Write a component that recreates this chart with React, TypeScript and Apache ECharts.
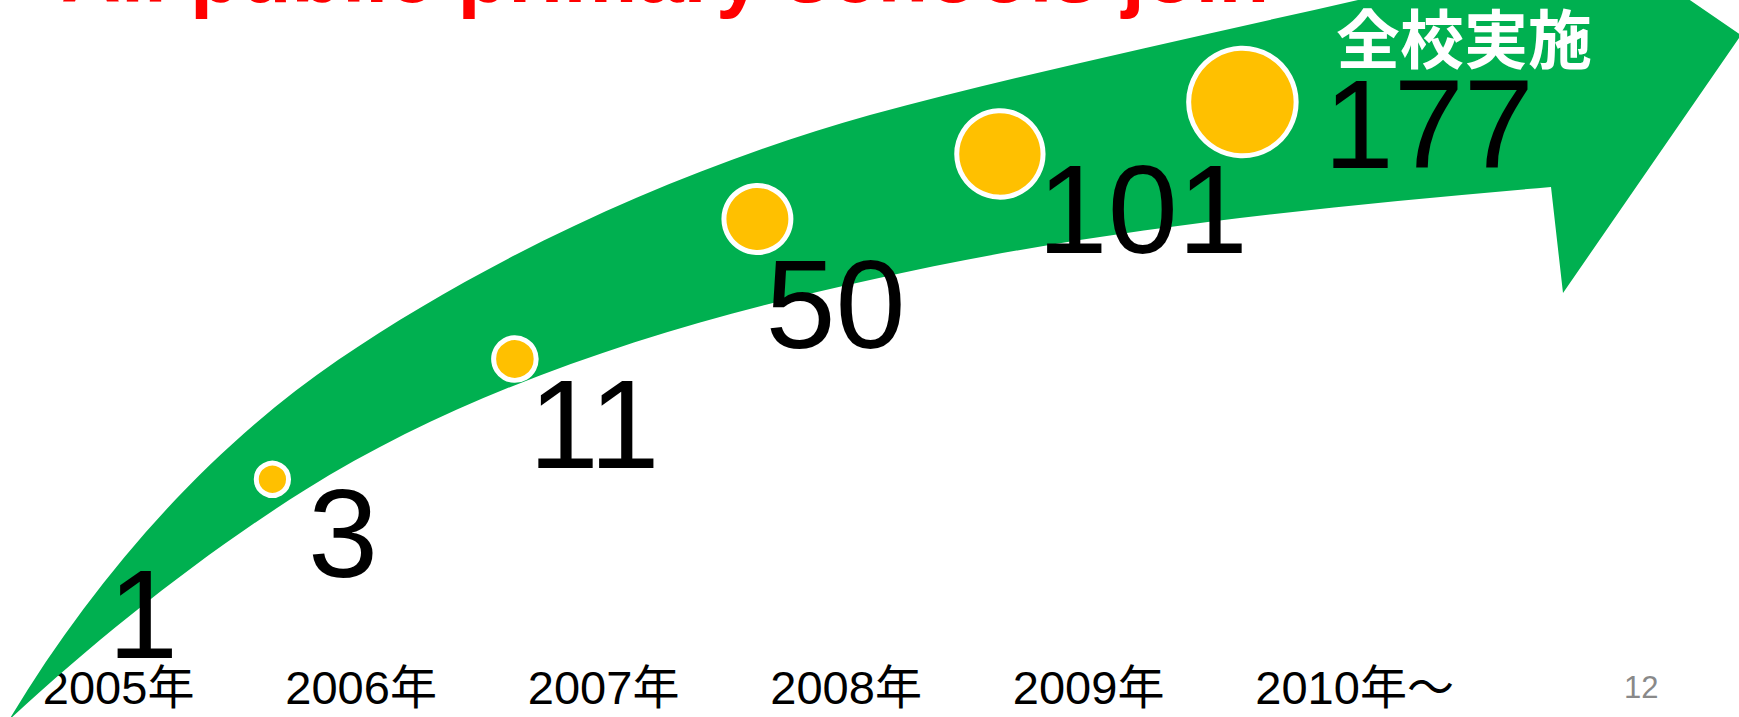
import React, { useEffect, useRef } from 'react';
import * as echarts from 'echarts';

// ---- data ----
const years: string[] = ['2005年', '2006年', '2007年', '2008年', '2009年', '2010年～'];
const schools: number[] = [1, 3, 11, 50, 101, 177];
const titleText = 'All public primary schools join';
const noteText = '全校実施';
const pageNumber = '12';

// ---- styles ----
const LATIN = "'Liberation Sans', Arial, sans-serif";
const MIXED = "'Liberation Sans', 'Noto Sans CJK JP', sans-serif";
const GREEN = '#00B050';
const YELLOW = '#FFC000';
// per-label offsets (style only) relative to the marker's right edge
const LABEL_OFFSETS: number[][] = [
  [78, 34],
  [17, 54],
  [-10, 65],
  [-28, 85],
  [-8, 56],
  [25, 22],
];
const ARROW_D =
  'M 9 720 C 93 580 206 450 338 360 C 495 253 687 166 870 115 C 1030 72 1200 36 1358 0 ' +
  'L 1480 -25 L 1643 -32 L 1741 35 L 1563 293 L 1551 187 ' +
  'C 1322 207 1094 229 870 280 C 675 323 475 384 305 490 C 203 554 100 636 9 720 Z';

const markerRadius = (v: number) => (v > 1 ? 8 + 3.25 * Math.sqrt(v) : 0);

export default function App() {
  const ref = useRef<HTMLDivElement>(null);

  useEffect(() => {
    if (!ref.current) return;
    (echarts as any).graphic.registerShape(
      'greenArrow',
      (echarts as any).graphic.extendPath(ARROW_D, {})
    );
    const chart = echarts.init(ref.current, undefined, { renderer: 'svg' });

    const seriesData = schools.map((v, i) => ({
      value: [years[i], v],
      itemStyle: v > 1 ? undefined : { borderWidth: 0, color: 'rgba(0,0,0,0)' },
      label: { offset: LABEL_OFFSETS[i] },
    }));

    const option: any = {
      animation: false,
      backgroundColor: '#ffffff',
      grid: { left: 118.6, right: 407.9, top: 6, bottom: 136.1, containLabel: false },
      xAxis: {
        type: 'category',
        data: years,
        boundaryGap: false,
        axisLine: { show: false },
        axisTick: { show: false },
        splitLine: { show: false },
        axisLabel: {
          interval: 0,
          margin: 83,
          fontSize: 47,
          color: '#000',
          fontFamily: MIXED,
          formatter: (val: string, idx: number) =>
            idx === years.length - 1 ? `{pad|\u00a0}{y|${val}}` : `{y|${val}}`,
          rich: {
            y: { fontSize: 47, fontFamily: MIXED, color: '#000' },
            pad: { width: 47, fontSize: 47 },
          },
        },
      },
      yAxis: { type: 'log', logBase: 10, min: 1, max: 500, show: false },
      graphic: [
        {
          type: 'text',
          x: 61,
          y: -26.8,
          z: 0,
          style: {
            text: titleText,
            fill: '#FF0000',
            fontSize: 83,
            fontWeight: 'bold',
            fontFamily: LATIN,
            align: 'left',
            verticalAlign: 'middle',
          },
        },
        {
          type: 'greenArrow',
          x: 0,
          y: 0,
          z: 1,
          style: { fill: GREEN },
        },
        {
          type: 'text',
          x: 1464,
          y: 34.5,
          z: 2,
          style: {
            text: noteText,
            fill: '#ffffff',
            fontSize: 64,
            fontWeight: 'bold',
            fontFamily: "'Noto Sans CJK JP', sans-serif",
            align: 'center',
            verticalAlign: 'middle',
          },
        },
        {
          type: 'text',
          x: 1624,
          y: 687.6,
          z: 2,
          style: {
            text: pageNumber,
            fill: '#898989',
            fontSize: 31,
            fontFamily: LATIN,
            align: 'left',
            verticalAlign: 'middle',
          },
        },
      ],
      series: [
        {
          type: 'scatter',
          data: seriesData,
          symbol: 'circle',
          symbolSize: (val: any) => {
            const r = markerRadius(val[1]);
            return r > 0 ? 2 * r + 5 : 0;
          },
          symbolOffset: [-88.7, 0],
          clip: false,
          z: 5,
          itemStyle: { color: YELLOW, borderColor: '#ffffff', borderWidth: 5, opacity: 1 },
          label: {
            show: true,
            position: 'right',
            distance: 0,
            fontSize: 126,
            fontFamily: LATIN,
            color: '#000000',
            opacity: 1,
            formatter: (p: any) => String(p.value[1]),
          },
          emphasis: { disabled: true },
        },
      ],
    };

    chart.setOption(option);
    return () => chart.dispose();
  }, []);

  return (
    <div
      ref={ref}
      style={{ position: 'absolute', left: 0, top: 0, width: '1739px', height: '717px' }}
    />
  );
}
